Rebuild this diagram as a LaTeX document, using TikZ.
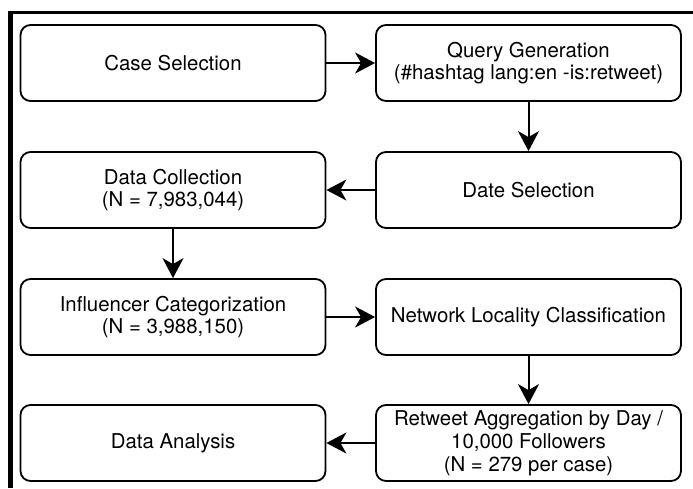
\documentclass[tikz,border=0pt]{standalone}
\usepackage{fontspec}
\setmainfont{TeX Gyre Heros}
\usetikzlibrary{arrows.meta}
\begin{document}
\begin{tikzpicture}[x=1pt,y=-1pt,
  box/.style={draw, line width=1.8pt, rounded corners=10pt, minimum width=305pt, minimum height=76pt,
    align=center, inner sep=0pt, font=\fontsize{20.4}{22.8}\selectfont},
  arr/.style={line width=2pt, -{Stealth[length=20pt,width=21pt,inset=6pt]}},
  frameline/.style={line width=3pt}]
\useasboundingbox (0,0) rectangle (693,488);
\draw[frameline] (8,12) -- (693,12);
\draw[line width=5pt] (10.5,10.5) -- (10.5,488);
\node[box] (case)  at (173,63)   {Case Selection};
\node[box] (query) at (528.5,63) {Query Generation\\(\#hashtag lang:en -is:retweet)};
\node[box] (date)  at (528.5,190) {Date Selection};
\node[box] (coll)  at (173,190)  {Data Collection\\(N = 7,983,044)};
\node[box] (infl)  at (173,317)  {Influencer Categorization\\(N = 3,988,150)};
\node[box] (net)   at (528.5,317) {Network Locality Classification};
\node[box] (rt)    at (528.5,443) {Retweet Aggregation by Day /\\10,000 Followers\\(N = 279 per case)};
\node[box] (ana)   at (173,443)  {Data Analysis};
\draw[arr] (case) -- (query);
\draw[arr] (query) -- (date);
\draw[arr] (date) -- (coll);
\draw[arr] (coll) -- (infl);
\draw[arr] (infl) -- (net);
\draw[arr] (net) -- (rt);
\draw[arr] (rt) -- (ana);
\end{tikzpicture}
\end{document}
